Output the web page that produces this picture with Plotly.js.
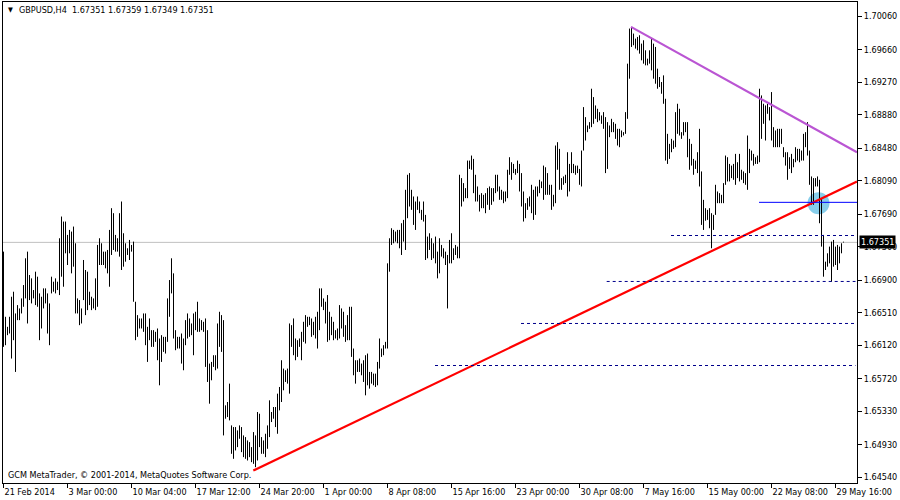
<!DOCTYPE html>
<html>
<head>
<meta charset="utf-8">
<script src="https://cdn.plot.ly/plotly-3.0.1.min.js"></script>
<style>html,body{margin:0;padding:0;background:#fff;}#chart{width:900px;height:500px;}</style>
</head>
<body>
<div id="chart"></div>
<script>
// ---- data (GBPUSD, H4) ----
const symbolTitle = "GBPUSD,H4";
const lastBar = {open: 1.67351, high: 1.67359, low: 1.67349, close: 1.67351};
const lastClose = 1.67351;

const barHigh = [
1.6724,1.6646,1.6634,1.6646,1.6670,1.6676,1.6650,1.6660,1.6656,1.6668,
1.6684,1.6716,1.6724,1.6696,1.6692,1.6678,1.6700,1.6694,1.6674,1.6670,
1.6680,1.6680,1.6674,1.6662,1.6694,1.6688,1.6692,1.6688,1.6740,1.6766,
1.6760,1.6760,1.6744,1.6750,1.6748,1.6754,1.6734,1.6668,1.6666,1.6656,
1.6714,1.6702,1.6700,1.6676,1.6670,1.6668,1.6692,1.6732,1.6740,1.6734,
1.6724,1.6724,1.6726,1.6750,1.6776,1.6770,1.6744,1.6740,1.6770,1.6784,
1.6746,1.6734,1.6728,1.6738,1.6732,1.6736,1.6664,1.6648,1.6644,1.6644,
1.6650,1.6650,1.6634,1.6644,1.6630,1.6630,1.6628,1.6632,1.6620,1.6624,
1.6622,1.6622,1.6668,1.6690,1.6716,1.6698,1.6630,1.6622,1.6622,1.6626,
1.6620,1.6642,1.6650,1.6644,1.6638,1.6650,1.6652,1.6664,1.6644,1.6642,
1.6640,1.6644,1.6630,1.6590,1.6592,1.6600,1.6600,1.6638,1.6652,1.6648,
1.6642,1.6540,1.6544,1.6566,1.6516,1.6514,1.6514,1.6510,1.6516,1.6514,
1.6504,1.6502,1.6498,1.6496,1.6490,1.6508,1.6504,1.6532,1.6530,1.6502,
1.6498,1.6506,1.6516,1.6546,1.6532,1.6538,1.6538,1.6554,1.6562,1.6594,
1.6584,1.6582,1.6584,1.6638,1.6636,1.6644,1.6620,1.6618,1.6620,1.6628,
1.6640,1.6648,1.6646,1.6646,1.6644,1.6640,1.6646,1.6652,1.6680,1.6680,
1.6668,1.6664,1.6672,1.6652,1.6646,1.6640,1.6630,1.6632,1.6660,1.6656,
1.6652,1.6636,1.6648,1.6658,1.6658,1.6608,1.6594,1.6594,1.6596,1.6590,
1.6594,1.6600,1.6602,1.6580,1.6580,1.6578,1.6578,1.6592,1.6620,1.6608,
1.6612,1.6616,1.6710,1.6740,1.6752,1.6750,1.6748,1.6750,1.6750,1.6758,
1.6762,1.6798,1.6816,1.6818,1.6798,1.6790,1.6784,1.6790,1.6784,1.6774,
1.6784,1.6768,1.6742,1.6746,1.6740,1.6734,1.6742,1.6724,1.6740,1.6732,
1.6728,1.6724,1.6720,1.6738,1.6746,1.6728,1.6732,1.6730,1.6816,1.6812,
1.6806,1.6800,1.6833,1.6833,1.6839,1.6835,1.6816,1.6802,1.6792,1.6794,
1.6792,1.6794,1.6800,1.6802,1.6800,1.6800,1.6816,1.6816,1.6802,1.6798,
1.6796,1.6796,1.6822,1.6837,1.6831,1.6829,1.6823,1.6833,1.6829,1.6818,
1.6796,1.6782,1.6788,1.6790,1.6804,1.6798,1.6802,1.6802,1.6810,1.6808,
1.6827,1.6825,1.6818,1.6804,1.6804,1.6792,1.6851,1.6855,1.6847,1.6812,
1.6814,1.6816,1.6843,1.6829,1.6843,1.6829,1.6827,1.6827,1.6823,1.6845,
1.6897,1.6885,1.6875,1.6879,1.6919,1.6909,1.6899,1.6895,1.6891,1.6887,
1.6891,1.6885,1.6879,1.6875,1.6883,1.6879,1.6877,1.6871,1.6871,1.6869,
1.6867,1.6891,1.6949,1.6991,1.6993,1.6985,1.6979,1.6981,1.6983,1.6973,
1.6977,1.6965,1.6955,1.6965,1.6979,1.6973,1.6969,1.6943,1.6933,1.6927,
1.6935,1.6907,1.6865,1.6853,1.6859,1.6857,1.6891,1.6901,1.6895,1.6867,
1.6879,1.6879,1.6879,1.6859,1.6853,1.6835,1.6833,1.6843,1.6871,1.6820,
1.6786,1.6776,1.6774,1.6776,1.6770,1.6768,1.6804,1.6796,1.6794,1.6792,
1.6806,1.6839,1.6837,1.6829,1.6827,1.6829,1.6841,1.6831,1.6841,1.6822,
1.6820,1.6818,1.6863,1.6847,1.6845,1.6841,1.6837,1.6839,1.6919,1.6911,
1.6901,1.6899,1.6901,1.6897,1.6915,1.6873,1.6869,1.6871,1.6871,1.6871,
1.6849,1.6843,1.6843,1.6837,1.6841,1.6835,1.6849,1.6847,1.6847,1.6845,
1.6865,1.6867,1.6879,1.6845,1.6814,1.6812,1.6812,1.6814,1.6810,1.6788,
1.6744,1.6712,1.6722,1.6730,1.6736,1.6738,1.6730,1.6732,1.6730,1.6734,
1.67359
];

const barLow = [
1.6610,1.6612,1.6624,1.6626,1.6596,1.6618,1.6580,1.6642,1.6642,1.6650,
1.6658,1.6668,1.6638,1.6666,1.6662,1.6668,1.6660,1.6658,1.6618,1.6632,
1.6656,1.6662,1.6626,1.6612,1.6674,1.6676,1.6674,1.6678,1.6672,1.6694,
1.6682,1.6722,1.6708,1.6722,1.6698,1.6706,1.6650,1.6650,1.6636,1.6638,
1.6666,1.6648,1.6654,1.6660,1.6654,1.6656,1.6654,1.6658,1.6708,1.6708,
1.6708,1.6704,1.6698,1.6682,1.6720,1.6726,1.6724,1.6724,1.6718,1.6702,
1.6706,1.6712,1.6720,1.6714,1.6724,1.6664,1.6618,1.6622,1.6632,1.6632,
1.6628,1.6612,1.6592,1.6618,1.6610,1.6610,1.6616,1.6594,1.6564,1.6592,
1.6604,1.6602,1.6616,1.6646,1.6674,1.6620,1.6606,1.6608,1.6608,1.6590,
1.6582,1.6612,1.6620,1.6622,1.6624,1.6600,1.6630,1.6628,1.6628,1.6630,
1.6628,1.6586,1.6568,1.6542,1.6570,1.6586,1.6582,1.6584,1.6610,1.6604,
1.6504,1.6524,1.6526,1.6522,1.6482,1.6476,1.6486,1.6490,1.6500,1.6484,
1.6478,1.6476,1.6474,1.6478,1.6472,1.6470,1.6466,1.6474,1.6490,1.6482,
1.6482,1.6478,1.6488,1.6502,1.6520,1.6524,1.6514,1.6506,1.6534,1.6544,
1.6558,1.6568,1.6566,1.6554,1.6610,1.6600,1.6594,1.6598,1.6610,1.6594,
1.6616,1.6614,1.6634,1.6636,1.6622,1.6624,1.6620,1.6608,1.6630,1.6658,
1.6654,1.6638,1.6616,1.6618,1.6624,1.6618,1.6620,1.6618,1.6620,1.6632,
1.6622,1.6616,1.6618,1.6618,1.6598,1.6576,1.6566,1.6580,1.6580,1.6576,
1.6568,1.6552,1.6564,1.6560,1.6566,1.6564,1.6562,1.6564,1.6584,1.6598,
1.6600,1.6608,1.6608,1.6700,1.6732,1.6734,1.6736,1.6734,1.6728,1.6720,
1.6736,1.6726,1.6764,1.6778,1.6774,1.6756,1.6750,1.6774,1.6770,1.6762,
1.6760,1.6714,1.6716,1.6726,1.6714,1.6716,1.6710,1.6692,1.6698,1.6718,
1.6716,1.6708,1.6656,1.6710,1.6710,1.6714,1.6720,1.6716,1.6716,1.6778,
1.6784,1.6788,1.6788,1.6823,1.6822,1.6794,1.6784,1.6784,1.6772,1.6776,
1.6776,1.6770,1.6780,1.6774,1.6780,1.6784,1.6794,1.6796,1.6786,1.6786,
1.6782,1.6784,1.6788,1.6816,1.6810,1.6818,1.6816,1.6818,1.6796,1.6778,
1.6760,1.6764,1.6774,1.6778,1.6770,1.6762,1.6768,1.6790,1.6794,1.6800,
1.6786,1.6792,1.6792,1.6792,1.6774,1.6778,1.6782,1.6822,1.6798,1.6798,
1.6804,1.6806,1.6790,1.6796,1.6818,1.6818,1.6816,1.6818,1.6804,1.6802,
1.6845,1.6857,1.6867,1.6871,1.6873,1.6877,1.6883,1.6879,1.6881,1.6877,
1.6871,1.6818,1.6823,1.6861,1.6867,1.6867,1.6859,1.6851,1.6849,1.6861,
1.6863,1.6865,1.6883,1.6931,1.6969,1.6971,1.6967,1.6965,1.6961,1.6953,
1.6949,1.6947,1.6947,1.6949,1.6941,1.6931,1.6925,1.6919,1.6921,1.6913,
1.6901,1.6833,1.6829,1.6835,1.6843,1.6847,1.6849,1.6865,1.6863,1.6859,
1.6863,1.6867,1.6837,1.6822,1.6827,1.6816,1.6823,1.6818,1.6802,1.6756,
1.6750,1.6761,1.6762,1.6752,1.6728,1.6750,1.6768,1.6782,1.6782,1.6782,
1.6782,1.6804,1.6808,1.6808,1.6812,1.6810,1.6804,1.6812,1.6808,1.6810,
1.6806,1.6804,1.6798,1.6818,1.6833,1.6827,1.6829,1.6829,1.6831,1.6859,
1.6877,1.6857,1.6889,1.6881,1.6857,1.6849,1.6849,1.6849,1.6849,1.6853,
1.6837,1.6827,1.6810,1.6823,1.6818,1.6825,1.6831,1.6833,1.6831,1.6833,
1.6833,1.6849,1.6839,1.6804,1.6780,1.6780,1.6802,1.6802,1.6758,1.6730,
1.6694,1.6702,1.6706,1.6710,1.6688,1.6706,1.6708,1.6702,1.6710,1.6722,
1.67349
];

// x-axis labels (bar index where each date label sits)
const dateTickIdx = [0,32,64,96,128,160,192,224,256,288,320,352,384,416];
const dateLabels = ["21 Feb 2014","3 Mar 00:00","10 Mar 04:00","17 Mar 12:00","24 Mar 20:00","1 Apr 00:00","8 Apr 08:00","15 Apr 16:00","23 Apr 00:00","30 Apr 08:00","7 May 16:00","15 May 00:00","22 May 08:00","29 May 16:00"];
const priceTicks = [1.70060,1.69660,1.69270,1.68880,1.68480,1.68090,1.67690,1.67300,1.66900,1.66510,1.66120,1.65720,1.65330,1.64930,1.64540];

// drawn objects (bar index / price)
const supportIdx = [124.9, 426.75];
const supportPrice = [1.6462, 1.6808];
const resistIdx = [313.75, 426.75];
const resistPrice = [1.6993, 1.6843];
const levelPrice = [1.67433, 1.66883, 1.6638, 1.65877];
const levelStartIdx = [333.75, 301.6, 258.75, 215.75];
const breakLinePrice = 1.6783;
const breakLineStartIdx = 377.75;
const breakPointIdx = [407.5];
const breakPointPrice = [1.6782];

// ---- build traces ----
const bx = [], by = [];
for (let i = 0; i < barHigh.length; i++) {
  bx.push(i, i, null);
  by.push(barLow[i], barHigh[i], null);
}
const FONT = "DejaVu Sans Condensed, Liberation Sans, sans-serif";
const AXIS_END = 426.75;

const traces = [
  {type:'scatter', mode:'markers', x: breakPointIdx, y: breakPointPrice,
   marker:{size:22, color:'#87CEEB', line:{width:0}}, hoverinfo:'skip', showlegend:false},
  {type:'scatter', mode:'lines', x: bx, y: by, connectgaps:false,
   line:{color:'#000000', width:1}, hoverinfo:'skip', showlegend:false},
  {type:'scatter', mode:'lines', x: supportIdx, y: supportPrice,
   line:{color:'#FF0000', width:2.2}, hoverinfo:'skip', showlegend:false},
  {type:'scatter', mode:'lines', x: resistIdx, y: resistPrice,
   line:{color:'#BA55D3', width:2.2}, hoverinfo:'skip', showlegend:false}
];

const shapes = [
  {type:'line', xref:'paper', x0:0, x1:1, yref:'y', y0:lastClose, y1:lastClose,
   line:{color:'#C0C0C0', width:1}, layer:'below'},
  {type:'line', xref:'x', x0:breakLineStartIdx, x1:AXIS_END, yref:'y', y0:breakLinePrice, y1:breakLinePrice,
   line:{color:'#0000FF', width:1}, layer:'above'}
];
for (let k = 0; k < levelPrice.length; k++) {
  shapes.push({type:'line', xref:'x', x0:levelStartIdx[k], x1:426, yref:'y', y0:levelPrice[k], y1:levelPrice[k],
    line:{color:'#00008B', width:1, dash:'3px,3px'}, layer:'above'});
}

const annotations = [
  {xref:'paper', yref:'paper', x:0.0035, y:0.983, xanchor:'left', yanchor:'middle', showarrow:false,
   text:'▼', font:{family:FONT, size:7, color:'#000'}},
  {xref:'paper', yref:'paper', x:0.0165, y:0.9825, xanchor:'left', yanchor:'middle', showarrow:false,
   text: symbolTitle + '\u00a0\u00a0' + [lastBar.open, lastBar.high, lastBar.low, lastBar.close].map(v => v.toFixed(5)).join(' '),
   font:{family:FONT, size:9, color:'#000'}},
  {xref:'paper', yref:'paper', x:0.004, y:0.0166, xanchor:'left', yanchor:'middle', showarrow:false,
   text:'GCM MetaTrader, © 2001-2014, MetaQuotes Software Corp.', font:{family:FONT, size:9, color:'#000'}},
  {xref:'paper', yref:'y', x:1, y:lastClose, xanchor:'left', yanchor:'middle', xshift:2, showarrow:false,
   text:lastClose.toFixed(5), bgcolor:'#000000', borderpad:1,
   font:{family:FONT, size:9, color:'#FFFFFF'}}
];

const layout = {
  width:900, height:500,
  margin:{l:3, r:43, t:2, b:17, pad:0},
  paper_bgcolor:'#FFFFFF', plot_bgcolor:'#FFFFFF',
  showlegend:false,
  xaxis:{range:[-0.25, AXIS_END], tickmode:'array', tickvals:dateTickIdx, ticktext:dateLabels,
    tickangle:0, automargin:false,
    ticks:'outside', ticklen:4, tickcolor:'#000', tickwidth:1, ticklabelposition:'outside right',
    showgrid:false, zeroline:false, showline:true, mirror:true, linecolor:'#000', linewidth:1,
    tickfont:{family:FONT, size:9, color:'#000'}, fixedrange:true},
  yaxis:{range:[1.644705, 1.702281], side:'right', tickmode:'array', tickvals:priceTicks,
    ticktext:priceTicks.map(v => v.toFixed(5)), automargin:false,
    ticks:'outside', ticklen:4, tickcolor:'#000', tickwidth:1,
    showgrid:false, zeroline:false, showline:true, mirror:true, linecolor:'#000', linewidth:1,
    tickfont:{family:FONT, size:9, color:'#000'}, fixedrange:true},
  shapes: shapes,
  annotations: annotations,
  hovermode:false
};

Plotly.newPlot('chart', traces, layout, {staticPlot:true, displayModeBar:false});
</script>
</body>
</html>
